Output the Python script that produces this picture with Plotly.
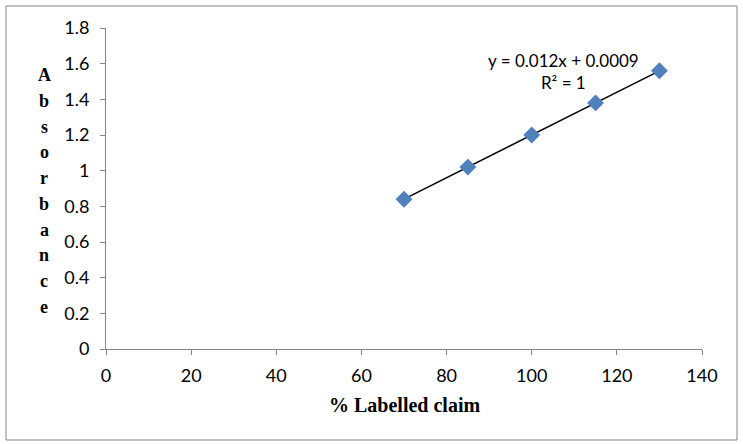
import numpy as np
import plotly.graph_objects as go

labelled_claim = [70, 85, 100, 115, 130]
absorbance = [0.84, 1.02, 1.20, 1.38, 1.56]
x_ticks = [0, 20, 40, 60, 80, 100, 120, 140]
y_ticks = [0, 0.2, 0.4, 0.6, 0.8, 1.0, 1.2, 1.4, 1.6, 1.8]
y_tick_text = ["0", "0.2", "0.4", "0.6", "0.8", "1", "1.2", "1.4", "1.6", "1.8"]
equation_text = "y = 0.012x + 0.0009<br>R² = 1"
y_title = "Absorbance"
x_title = "% Labelled claim"

slope, intercept = np.polyfit(labelled_claim, absorbance, 1)
fit_x = [min(labelled_claim), max(labelled_claim)]
fit_y = [slope * v + intercept for v in fit_x]

fig = go.Figure()
fig.add_trace(go.Scatter(x=fit_x, y=fit_y, mode="lines",
                         line=dict(color="black", width=1.5), showlegend=False))
fig.add_trace(go.Scatter(x=labelled_claim, y=absorbance, mode="markers",
                         marker=dict(symbol="diamond", size=13, color="#4F81BD",
                                     line=dict(width=0)), showlegend=False))

sans = "Lato, 'Open Sans', sans-serif"
serif = "'Liberation Serif', 'Times New Roman', serif"
tick_font = dict(family=sans, size=18, color="black")
axis_common = dict(showgrid=False, zeroline=False, showline=True, linecolor="#868686",
                   linewidth=1, ticks="outside", ticklen=5, tickcolor="#868686",
                   tickfont=tick_font)

fig.update_xaxes(range=[0, 140], tickvals=x_ticks, ticklabelstandoff=5, **axis_common)
fig.update_yaxes(range=[0, 1.8], tickvals=y_ticks, ticktext=y_tick_text,
                 ticklabelstandoff=7, **axis_common)

fig.add_annotation(x=107.5, y=1.555, xref="x", yref="y", text=equation_text,
                   showarrow=False, align="center",
                   font=dict(family=sans, size=17, color="black"))

# vertical stacked y-axis title, letters evenly spaced between top and bottom
top_paper, bottom_paper = (349 - 75) / 321, (349 - 307) / 321
n = len(y_title)
for i, ch in enumerate(y_title):
    yp = top_paper + (bottom_paper - top_paper) * i / (n - 1)
    fig.add_annotation(x=-0.104, y=yp, xref="paper", yref="paper",
                       text="<b>" + ch + "</b>", showarrow=False,
                       xanchor="center", yanchor="middle",
                       font=dict(family=serif, size=18, color="black"))

fig.add_annotation(x=0.5, y=-0.174, xref="paper", yref="paper", text="<b>" + x_title + "</b>",
                   showarrow=False, yanchor="middle",
                   font=dict(family=serif, size=20, color="black"))

fig.add_shape(type="rect", xref="paper", yref="paper",
              x0=-0.1678, x1=1.0587, y0=-0.2835, y1=1.0685,
              line=dict(color="#868686", width=1), fillcolor="rgba(0,0,0,0)", layer="below")

fig.update_layout(width=743, height=444, margin=dict(l=106, r=41, t=28, b=95),
                  paper_bgcolor="white", plot_bgcolor="white")

fig.write_html("out.html")
